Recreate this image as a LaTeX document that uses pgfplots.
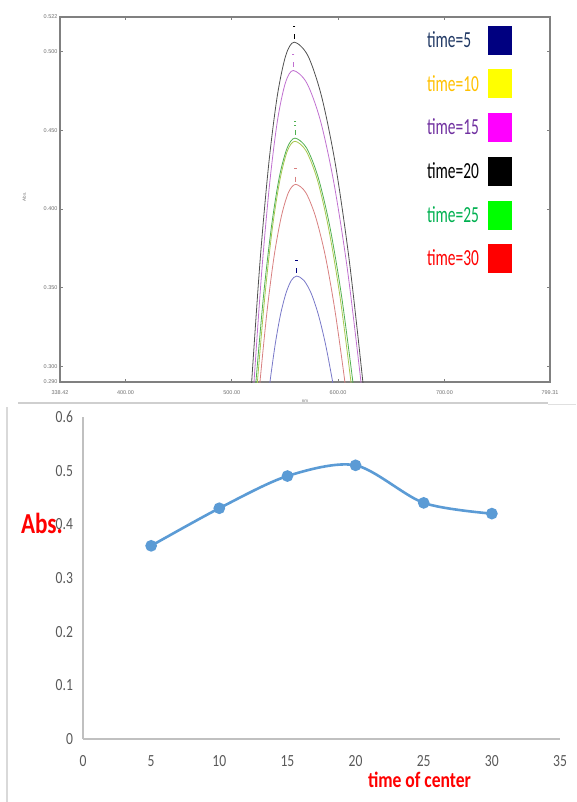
\documentclass[border=0pt]{standalone}
\usepackage{fontspec}
\setmainfont{Carlito}
\newfontfamily\xlfont[FakeStretch=0.8]{Carlito}
\newfontfamily\legfont[FakeStretch=0.67]{Carlito}
\newfontfamily\arfont{Liberation Sans}
\usepackage{pgfplots}
\pgfplotsset{compat=1.18}

\definecolor{axgray}{HTML}{808080}
\definecolor{tlgray}{HTML}{707070}
\definecolor{xlgray}{HTML}{595959}
\definecolor{xlaxis}{HTML}{C0C0C0}
\definecolor{xlblue}{HTML}{5B9BD5}
% curve colours (top panel)
\definecolor{cblk}{HTML}{505050}
\definecolor{cmag}{HTML}{C070D0}
\definecolor{cgrn}{HTML}{50B050}
\definecolor{cyel}{HTML}{A8C850}
\definecolor{cred}{HTML}{D88080}
\definecolor{cblu}{HTML}{7878C8}
% legend text colours
\definecolor{t5}{HTML}{203864}
\definecolor{t10}{HTML}{FFC000}
\definecolor{t15}{HTML}{7030A0}
\definecolor{t25}{HTML}{00B050}
\definecolor{t30}{HTML}{FF0000}
% legend squares
\definecolor{s5}{HTML}{000080}
\definecolor{s10}{HTML}{FFFF00}
\definecolor{s15}{HTML}{FF00FF}
\definecolor{s25}{HTML}{00FF00}
\definecolor{s30}{HTML}{FF0000}

% square legend image, sitting 3pt above the text centre
\pgfplotsset{sqleg/.style={legend image code/.code={%
  \fill[##1, draw=none] (0pt,-14.5pt) rectangle (24pt,14.5pt);
  \path[draw=none, fill=none] (12pt,-20.5pt) rectangle (12.01pt,-20.49pt);}}}

\begin{document}
\begin{tikzpicture}
\useasboundingbox (0,0) rectangle (576pt,-802pt);

% frame lines of the lower panel
\draw[color=black!19, line width=2pt] (18pt,-403pt) -- (548pt,-403pt);
\draw[color=black!12, line width=1pt] (548pt,-404pt) -- (576pt,-404pt);
\draw[color=black!15, line width=1.2pt] (7pt,-407pt) -- (7pt,-810pt);

% ---------- top: spectra ----------
\begin{axis}[
    at={(60pt,-382pt)}, anchor=south west,
    scale only axis, width=490pt, height=365pt,
    xmin=338.42, xmax=799.31, ymin=0.290, ymax=0.522,
    xtick={338.42,400,500,600,700,799.31},
    xticklabels={338.42,400.00,500.00,600.00,700.00,799.31},
    ytick={0.290,0.300,0.350,0.400,0.450,0.500,0.522},
    yticklabels={0.290,0.300,0.350,0.400,0.450,0.500,0.522},
    tick align=inside, major tick length=3pt,
    axis line style={draw=axgray, line width=1.2pt},
    tick style={draw=axgray, line width=0.6pt},
    ticklabel style={font=\arfont\fontsize{5.5}{6}\selectfont, text=tlgray},
    yticklabel style={xshift=1pt},
    xticklabel style={yshift=-5pt},
    every axis y label/.style={at={(axis description cs:-0.073,0.507)}, anchor=center, rotate=90,
        font=\arfont\fontsize{4.5}{5}\selectfont, text=tlgray},
    every axis x label/.style={at={(axis description cs:0.5,-0.052)}, anchor=center,
        font=\arfont\fontsize{4.5}{5}\selectfont, text=tlgray},
    ylabel={Abs.}, xlabel={nm},
    legend style={at={(axis description cs:0.749,0.976)}, anchor=north west,
        draw=none, fill=none, inner sep=0pt, outer sep=0pt, row sep=8.7pt, column sep=9pt,
        font=\legfont\fontsize{23}{23}\selectfont, nodes={inner sep=0pt}},
    legend cell align=left, legend plot pos=right,
]
\addplot[cblu, line width=0.8pt, smooth, forget plot] coordinates {
(533.4,0.2759) (535.9,0.290) (540.9,0.3142) (545.9,0.3331) (551.0,0.3465) (556.0,0.3546) (561.0,0.3573)
(567.8,0.3546) (574.6,0.3465) (581.3,0.3331) (588.1,0.3142) (594.9,0.290) (598.3,0.2759)};
\addplot[cred, line width=0.8pt, smooth, forget plot] coordinates {
(523.1,0.2636) (526.5,0.290) (533.2,0.3352) (539.9,0.3704) (546.7,0.3955) (553.4,0.4106) (560.1,0.4156)
(569.4,0.4106) (578.6,0.3955) (587.9,0.3704) (597.1,0.3352) (606.4,0.290) (611.0,0.2636)};
\addplot[cyel, line width=0.8pt, smooth, forget plot] coordinates {
(520.6,0.2579) (524.1,0.290) (531.2,0.3451) (538.2,0.3879) (545.3,0.4185) (552.3,0.4369) (559.4,0.443)
(569.9,0.4369) (580.5,0.4185) (591.0,0.3879) (601.6,0.3451) (612.1,0.290) (617.4,0.2579)};
\addplot[cgrn, line width=0.8pt, smooth, forget plot] coordinates {
(519.0,0.2575) (522.7,0.290) (530.0,0.3458) (537.4,0.3892) (544.7,0.4202) (552.1,0.4388) (559.4,0.445)
(570.3,0.4388) (581.2,0.4202) (592.1,0.3892) (603.0,0.3458) (613.9,0.290) (619.4,0.2575)};
\addplot[cmag, line width=0.8pt, smooth, forget plot] coordinates {
(517.2,0.2484) (520.9,0.290) (528.3,0.3613) (535.7,0.4167) (543.0,0.4563) (550.4,0.4801) (557.8,0.488)
(570.5,0.4801) (583.3,0.4563) (596.0,0.4167) (608.8,0.3613) (621.5,0.290) (627.9,0.2484)};
\addplot[cblk, line width=0.8pt, smooth, forget plot] coordinates {
(514.7,0.2446) (518.7,0.290) (526.7,0.3678) (534.7,0.4282) (542.7,0.4714) (550.7,0.4974) (558.7,0.506)
(571.6,0.4974) (584.5,0.4714) (597.5,0.4282) (610.4,0.3678) (623.3,0.290) (629.8,0.2446)};
% peak pick markers
\addplot[only marks, mark=|, mark size=2.5pt, forget plot, mark options={line width=0.8pt}]
  coordinates {(558.7,0.5095)};
\addplot[only marks, mark=|, mark size=2.5pt, cmag, forget plot, mark options={line width=0.8pt}]
  coordinates {(557.8,0.4915)};
\addplot[only marks, mark=|, mark size=2.5pt, cgrn, forget plot, mark options={line width=0.8pt}]
  coordinates {(559.4,0.4485)};
\addplot[only marks, mark=|, mark size=2.5pt, cred, forget plot, mark options={line width=0.8pt}]
  coordinates {(560.1,0.419)};
\addplot[only marks, mark=|, mark size=2.5pt, s5, forget plot, mark options={line width=0.8pt}]
  coordinates {(561.0,0.3608)};
\addplot[only marks, mark=-, mark size=1.2pt, forget plot] coordinates {(558.7,0.5163)};
\addplot[only marks, mark=-, mark size=1.2pt, cmag, forget plot] coordinates {(557.8,0.4985)};
\addplot[only marks, mark=-, mark size=1.2pt, cgrn, forget plot] coordinates {(559.4,0.4555) (559.4,0.4535)};
\addplot[only marks, mark=-, mark size=1.2pt, cred, forget plot] coordinates {(560.1,0.426)};
\addplot[only marks, mark=-, mark size=1.2pt, s5, forget plot] coordinates {(561.0,0.3675)};

\addlegendimage{sqleg, fill=s5}  \addlegendentry{\textcolor{t5}{time=5}}
\addlegendimage{sqleg, fill=s10} \addlegendentry{\textcolor{t10}{time=10}}
\addlegendimage{sqleg, fill=s15} \addlegendentry{\textcolor{t15}{time=15}}
\addlegendimage{sqleg, fill=black} \addlegendentry{\textcolor{black}{time=20}}
\addlegendimage{sqleg, fill=s25} \addlegendentry{\textcolor{t25}{time=25}}
\addlegendimage{sqleg, fill=s30} \addlegendentry{\textcolor{t30}{time=30}}
\end{axis}

% ---------- bottom: peak absorbance vs time ----------
\begin{axis}[
    at={(83pt,-739pt)}, anchor=south west,
    scale only axis, width=477pt, height=322pt,
    xmin=0, xmax=35, ymin=0, ymax=0.6,
    xtick={0,5,10,15,20,25,30,35},
    xticklabels={0,5,10,15,20,25,30,35},
    ytick={0,0.1,0.2,0.3,0.4,0.5,0.6},
    yticklabels={0,0.1,0.2,0.3,0.4,0.5,0.6},
    axis x line=bottom, axis y line=left,
    axis line style={-, draw=xlaxis, line width=1.5pt},
    major tick length=0pt,
    ticklabel style={font=\xlfont\fontsize{17}{17}\selectfont, text=xlgray},
    yticklabel style={xshift=-6.5pt},
    xticklabel style={yshift=-13pt},
    every axis y label/.style={at={(axis description cs:-0.086,0.668)}, anchor=center,
        font=\xlfont\bfseries\fontsize{29}{29}\selectfont, text=red},
    every axis x label/.style={at={(axis description cs:0.7055,-0.128)}, anchor=center,
        font=\xlfont\bfseries\fontsize{22}{22}\selectfont, text=red},
    ylabel={Abs.}, xlabel={time of center},
    clip=false,
]
\addplot[xlblue, line width=2.6pt, smooth, mark=*, mark size=4.5pt,
    mark options={solid, fill=xlblue, draw=none}]
  coordinates {(5,0.36) (10,0.43) (15,0.49) (20,0.51) (25,0.44) (30,0.42)};
\end{axis}
\end{tikzpicture}
\end{document}
